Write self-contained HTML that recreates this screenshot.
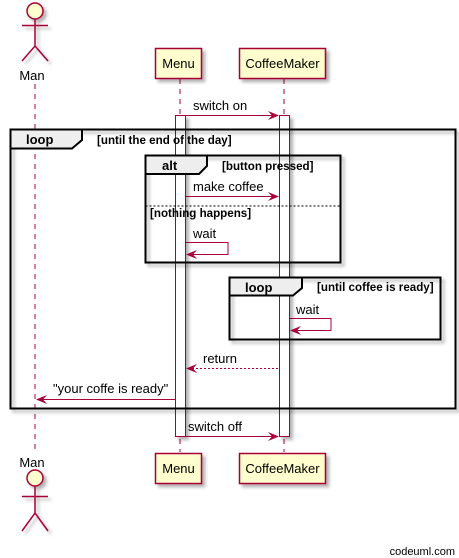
<!DOCTYPE html>
<html><head><meta charset="utf-8"><style>
html,body{margin:0;padding:0;background:#fff;}
svg{display:block;font-family:"Liberation Sans",sans-serif;}
</style></head><body>
<svg width="459" height="558" viewBox="0 0 459 558" xmlns="http://www.w3.org/2000/svg">
<defs>
<filter id="sh" x="-10%" y="-10%" width="130%" height="130%"><feDropShadow dx="3" dy="3" stdDeviation="1.5" flood-color="#000" flood-opacity="0.3"/></filter>
</defs>
<g stroke="#A80036" stroke-width="1" stroke-dasharray="5,5">
<line x1="35" y1="84" x2="35" y2="452"/>
<line x1="180" y1="79" x2="180" y2="452"/>
<line x1="284" y1="79" x2="284" y2="452"/>
</g>
<g fill="#fff" stroke="#A80036" filter="url(#sh)">
<rect x="175.5" y="115.5" width="10" height="321"/>
<rect x="279.5" y="115.5" width="10" height="321"/>
</g>
<g stroke="#000" fill="none" stroke-width="2">
<rect x="10.5" y="129.5" width="445" height="279" filter="url(#sh)"/>
<path d="M10.5 129.5 H82 V140 L72 148.5 H10.5 Z" fill="#EEEEEE"/>
<rect x="145.5" y="155.5" width="195" height="107" filter="url(#sh)"/>
<path d="M145.5 155.5 H207 V166 L199 174 H145.5 Z" fill="#EEEEEE"/>
<rect x="229.5" y="277.5" width="211" height="62" filter="url(#sh)"/>
<path d="M229.5 277.5 H302 V288 L293 295.5 H229.5 Z" fill="#EEEEEE"/>
</g>
<line x1="145.5" y1="206" x2="340.5" y2="206" stroke="#000" stroke-dasharray="2,2"/>
<g font-weight="bold" font-size="13" fill="#000">
<text x="26" y="144">loop</text>
<text x="162" y="170">alt</text>
<text x="245" y="292">loop</text>
</g>
<g font-weight="bold" font-size="11.6" fill="#000">
<text x="97" y="144">[until the end of the day]</text>
<text x="222" y="170">[button pressed]</text>
<text x="150" y="217">[nothing happens]</text>
<text x="317" y="291">[until coffee is ready]</text>
</g>
<g stroke="#A80036" fill="none" stroke-width="1">
<line x1="185" y1="115.5" x2="276" y2="115.5"/>
<line x1="185" y1="196.5" x2="276" y2="196.5"/>
<polyline points="185,242.5 228,242.5 228,254.5 188,254.5"/>
<polyline points="289,318.5 331,318.5 331,330.5 292,330.5"/>
<line x1="188" y1="368.5" x2="279" y2="368.5" stroke-dasharray="2,2"/>
<line x1="38" y1="399.5" x2="175" y2="399.5"/>
<line x1="185" y1="436.5" x2="276" y2="436.5"/>
</g>
<g fill="#A80036">
<path d="M279 115.5 L268 111 L272 115.5 L268 120 Z"/>
<path d="M279 196.5 L268 192 L272 196.5 L268 201 Z"/>
<path d="M186 254.5 L197 250 L193 254.5 L197 259 Z"/>
<path d="M290 330.5 L301 326 L297 330.5 L301 335 Z"/>
<path d="M186 368.5 L197 364 L193 368.5 L197 373 Z"/>
<path d="M36 399.5 L47 395 L43 399.5 L47 404 Z"/>
<path d="M279 436.5 L268 432 L272 436.5 L268 441 Z"/>
</g>
<g font-size="13" fill="#000">
<text x="193" y="110">switch on</text>
<text x="193" y="191">make coffee</text>
<text x="193" y="238">wait</text>
<text x="296" y="314">wait</text>
<text x="203" y="363">return</text>
<text x="53" y="393">"your coffe is ready"</text>
<text x="188" y="431">switch off</text>
</g>
<g fill="#FEFECE" stroke="#A80036" stroke-width="1.5" filter="url(#sh)">
<rect x="155.5" y="48.5" width="46" height="30"/>
<rect x="239.5" y="48.5" width="86" height="30"/>
<rect x="155.5" y="453.5" width="46" height="30"/>
<rect x="239.5" y="453.5" width="86" height="30"/>
</g>
<g font-size="13" fill="#000" text-anchor="middle">
<text x="178.5" y="68">Menu</text>
<text x="282.5" y="68">CoffeeMaker</text>
<text x="178.5" y="473">Menu</text>
<text x="282.5" y="473">CoffeeMaker</text>
<text x="32" y="80">Man</text>
<text x="32" y="467">Man</text>
</g>
<g stroke="#A80036" stroke-width="1.5" fill="none" filter="url(#sh)">
<circle cx="35" cy="11" r="8" fill="#FEFECE"/>
<path d="M35 19 V46 M22 25.5 H48 M22 61 L35 46 L48 61"/>
<circle cx="35" cy="478" r="8" fill="#FEFECE"/>
<path d="M35 486 V513 M22 496.5 H48 M22 531 L35 513 L48 531"/>
</g>
<text x="455" y="555" font-size="11" text-anchor="end" fill="#000">codeuml.com</text>
</svg>
</body></html>
